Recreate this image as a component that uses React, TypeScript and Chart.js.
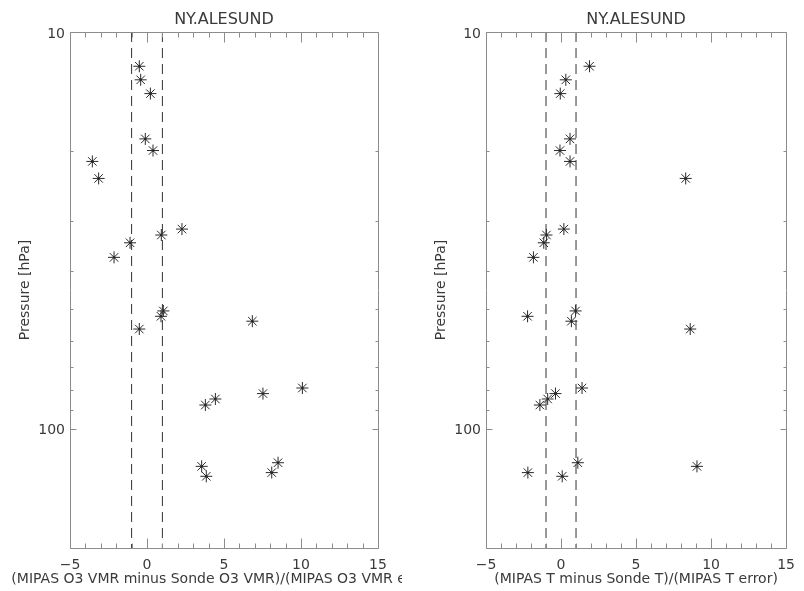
import React, { useEffect, useRef } from 'react';
import { Chart, registerables } from 'chart.js';

Chart.register(...registerables);

// ---------- data ----------
const STATION = 'NY.ALESUND';
const pressureLevels = [12.2, 13.2, 14.3, 18.6, 19.9, 21.2, 23.4, 31.4, 32.5, 34.0, 37.0, 50.5, 52.1, 53.6, 56.1, 79.0, 81.6, 84.2, 87.2, 121.9, 124.5, 129.1, 131.9];
const o3Deviation = [-0.5, -0.41, 0.22, -0.11, 0.39, -3.55, -3.14, 2.27, 0.93, -1.1, -2.14, 1.06, 0.91, 6.84, -0.5, 10.09, 7.53, 4.44, 3.79, 8.51, 3.55, 8.1, 3.85];
const tDeviation = [1.9, 0.32, -0.05, 0.6, -0.07, 0.6, 8.31, 0.19, -0.97, -1.15, -1.84, 0.97, -2.23, 0.69, 8.61, 1.4, -0.37, -0.89, -1.41, 1.12, 9.06, -2.21, 0.08];
const thresholds = [-1, 1];
const xTickLabels = [-5, 0, 5, 10, 15];
const xMinorStep = 1;
const yTickLabels = [10, 100];
const yMinorTicks = [20, 30, 40, 50, 60, 70, 80, 90, 200];
const X_RANGE = [-5, 15];
const Y_RANGE = [10, 200];
const O3_TITLE = '(MIPAS O3 VMR minus Sonde O3 VMR)/(MIPAS O3 VMR error)';
const T_TITLE = '(MIPAS T minus Sonde T)/(MIPAS T error)';
const Y_TITLE = 'Pressure [hPa]';

// ---------- style ----------
const FONT = "'DejaVu Sans', sans-serif";
const TEXT = '#3a3a3a';
const AXIS = '#8c8c8c';
const MARK = '#2a2a2a';
const W = 402;
const H = 591;

const fmt = (v: number) => (v < 0 ? '\u2212' + Math.abs(v) : String(v));

function makeFramePlugin(xTitle: string) {
  return {
    id: 'idlFrame',
    afterDraw(chart: any) {
      const { ctx, chartArea: a, scales } = chart;
      const xs = scales.x;
      const ys = scales.y;
      ctx.save();
      ctx.strokeStyle = AXIS;
      ctx.lineWidth = 1;
      const L = Math.round(a.left) + 0.5;
      const R = Math.round(a.right) + 0.5;
      const T = Math.round(a.top) + 0.5;
      const B = Math.round(a.bottom) + 0.5;
      ctx.beginPath();
      ctx.rect(L, T, R - L, B - T);
      for (let v = X_RANGE[0]; v <= X_RANGE[1]; v += xMinorStep) {
        const px = Math.round(xs.getPixelForValue(v)) + 0.5;
        const len = xTickLabels.includes(v) ? 10 : 5;
        ctx.moveTo(px, B);
        ctx.lineTo(px, B - len);
        ctx.moveTo(px, T);
        ctx.lineTo(px, T + len);
      }
      const yt = [...yTickLabels.map((v) => [v, 6]), ...yMinorTicks.map((v) => [v, 3])];
      for (const [v, len] of yt) {
        const py = Math.round(ys.getPixelForValue(v)) + 0.5;
        ctx.moveTo(L, py);
        ctx.lineTo(L + len, py);
        ctx.moveTo(R, py);
        ctx.lineTo(R - len, py);
      }
      ctx.stroke();
      ctx.fillStyle = TEXT;
      ctx.font = `14px ${FONT}`;
      ctx.textAlign = 'center';
      ctx.textBaseline = 'middle';
      ctx.fillText(xTitle, (a.left + a.right) / 2, chart.height - 12);
      ctx.restore();
    },
  };
}

interface PanelProps {
  values: number[];
  xTitle: string;
  left: number;
  axisWidth: number;
  rightPad: number;
  yTitlePad: number;
}

function Panel({ values, xTitle, left, axisWidth, rightPad, yTitlePad }: PanelProps) {
  const ref = useRef<HTMLCanvasElement | null>(null);
  useEffect(() => {
    if (!ref.current) return;
    const points = values.map((x, i) => ({ x, y: pressureLevels[i] }));
    const lines = thresholds.map((t) => ({
      type: 'line' as const,
      data: [
        { x: t, y: Y_RANGE[0] },
        { x: t, y: Y_RANGE[1] },
      ],
      showLine: true,
      borderColor: '#333',
      borderWidth: 1,
      borderDash: [10, 6],
      pointRadius: 0,
      fill: false,
    }));
    const chart = new Chart(ref.current, {
      type: 'scatter',
      data: {
        datasets: [
          ...lines,
          {
            data: points,
            pointStyle: 'star',
            pointRadius: 6,
            borderColor: MARK,
            backgroundColor: MARK,
            borderWidth: 1,
          },
          {
            data: points,
            pointStyle: 'circle',
            pointRadius: 1.2,
            borderWidth: 0,
            backgroundColor: '#000',
          },
        ] as any,
      },
      options: {
        animation: false,
        responsive: false,
        events: [],
        layout: { padding: { left: 0, right: rightPad, top: 0, bottom: 0 } },
        plugins: { legend: { display: false }, tooltip: { enabled: false }, title: { display: false } },
        scales: {
          x: {
            type: 'linear',
            position: 'bottom',
            min: X_RANGE[0],
            max: X_RANGE[1],
            afterBuildTicks: (s: any) => {
              s.ticks = xTickLabels.map((v) => ({ value: v }));
            },
            ticks: {
              callback: (v: any) => fmt(Number(v)),
              color: TEXT,
              font: { family: FONT, size: 14 },
              padding: 9,
              maxRotation: 0,
              autoSkip: false,
            },
            grid: { display: false, drawTicks: false },
            border: { display: false },
            afterFit: (s: any) => {
              s.height = 43;
            },
          },
          x2: {
            type: 'linear',
            position: 'top',
            min: X_RANGE[0],
            max: X_RANGE[1],
            ticks: { display: false },
            grid: { display: false, drawTicks: false },
            border: { display: false },
            title: {
              display: true,
              text: STATION,
              color: TEXT,
              font: { family: FONT, size: 16 },
              padding: { top: 10, bottom: 0 },
            },
            afterFit: (s: any) => {
              s.height = 32;
            },
          },
          y: {
            type: 'logarithmic',
            position: 'left',
            reverse: true,
            min: Y_RANGE[0],
            max: Y_RANGE[1],
            afterBuildTicks: (s: any) => {
              s.ticks = yTickLabels.map((v) => ({ value: v }));
            },
            ticks: {
              callback: (v: any) => String(v),
              color: TEXT,
              font: { family: FONT, size: 14 },
              padding: 5,
              labelOffset: 2,
              autoSkip: false,
            },
            grid: { display: false, drawTicks: false },
            border: { display: false },
            title: {
              display: true,
              text: Y_TITLE,
              color: TEXT,
              font: { family: FONT, size: 14 },
              padding: { top: yTitlePad, bottom: 0 },
            },
            afterFit: (s: any) => {
              s.width = axisWidth;
            },
          },
        },
      } as any,
      plugins: [makeFramePlugin(xTitle)],
    });
    return () => chart.destroy();
  }, [values, xTitle, axisWidth, rightPad, yTitlePad]);
  return (
    <canvas
      ref={ref}
      width={W}
      height={H}
      style={{ position: 'absolute', left, top: 0, width: W, height: H, display: 'block' }}
    />
  );
}

export default function App() {
  return (
    <div style={{ position: 'absolute', left: 0, top: 0, width: 804, height: 591, background: '#fff', overflow: 'hidden' }}>
      <Panel values={o3Deviation} xTitle={O3_TITLE} left={0} axisWidth={70} rightPad={24} yTitlePad={17} />
      <Panel values={tDeviation} xTitle={T_TITLE} left={402} axisWidth={84} rightPad={10} yTitlePad={31} />
    </div>
  );
}
